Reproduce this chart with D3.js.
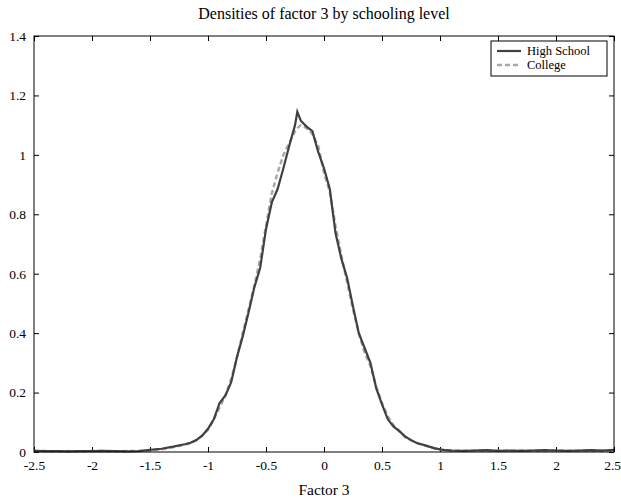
<!DOCTYPE html>
<html>
<head>
<meta charset="utf-8">
<script src="https://cdn.jsdelivr.net/npm/d3@7"></script>
<style>
  body { margin: 0; background: #fff; }
  svg { display: block; }
</style>
</head>
<body>
<svg id="chart" width="621" height="500"></svg>
<script>
const xs = [-2.5,-2.4,-2.3,-2.2,-2.1,-2.0,-1.9,-1.8,-1.7,-1.6,-1.5,-1.4,-1.3,-1.2,-1.15,-1.1,-1.05,-1.0,-0.95,-0.9,-0.85,-0.8,-0.75,-0.7,-0.65,-0.6,-0.55,-0.5,-0.45,-0.4,-0.35,-0.3,-0.25,-0.23,-0.2,-0.15,-0.1,-0.05,0,0.05,0.1,0.15,0.2,0.25,0.3,0.35,0.4,0.45,0.5,0.55,0.6,0.65,0.7,0.75,0.8,0.85,0.9,0.95,1.0,1.05,1.1,1.2,1.3,1.4,1.5,1.6,1.7,1.8,1.9,2.0,2.1,2.2,2.3,2.4,2.5];
const highSchool = [0.004,0.003,0.003,0.002,0.003,0.003,0.004,0.003,0.002,0.003,0.007,0.011,0.018,0.026,0.031,0.040,0.055,0.078,0.110,0.165,0.190,0.235,0.320,0.390,0.470,0.555,0.620,0.750,0.840,0.885,0.955,1.030,1.100,1.145,1.115,1.095,1.080,1.010,0.955,0.885,0.735,0.650,0.585,0.490,0.400,0.350,0.300,0.215,0.160,0.110,0.085,0.070,0.052,0.040,0.030,0.025,0.019,0.013,0.009,0.006,0.005,0.004,0.005,0.006,0.004,0.005,0.004,0.005,0.006,0.005,0.004,0.005,0.006,0.005,0.007];
const college = [0.003,0.003,0.002,0.003,0.002,0.003,0.003,0.002,0.003,0.003,0.005,0.009,0.016,0.025,0.030,0.040,0.055,0.075,0.110,0.150,0.190,0.245,0.320,0.400,0.480,0.560,0.650,0.760,0.870,0.940,1.000,1.040,1.080,1.090,1.100,1.090,1.070,1.030,0.940,0.875,0.760,0.660,0.570,0.480,0.400,0.335,0.290,0.220,0.165,0.120,0.090,0.070,0.050,0.040,0.030,0.024,0.018,0.012,0.008,0.006,0.005,0.004,0.004,0.005,0.004,0.004,0.005,0.004,0.005,0.005,0.004,0.004,0.005,0.004,0.005];
const xTicks = [-2.5,-2,-1.5,-1,-0.5,0,0.5,1,1.5,2,2.5];
const yTicks = [0,0.2,0.4,0.6,0.8,1,1.2,1.4];
const seriesNames = ["High School","College"];

const svg = d3.select("#chart");
const L = 34, R = 614, T = 36, B = 452;
const x = d3.scaleLinear().domain([-2.5, 2.5]).range([L, R]);
const y = d3.scaleLinear().domain([0, 1.4]).range([B, T]);
const font = "Liberation Serif, Times New Roman, serif";
const fmt = d => String(d);

// axes with inward ticks
const tl = 5;
svg.append("g").attr("transform", `translate(0,${B})`)
  .call(d3.axisBottom(x).tickValues(xTicks).tickFormat(fmt).tickSizeInner(-tl).tickSizeOuter(0).tickPadding(8))
  .call(g => {
    g.select(".domain").remove();
    g.selectAll("text").attr("font-family", font).attr("font-size", 13.5).attr("fill", "#000");
    g.selectAll(".tick").filter(d => d === 2.5).select("text").attr("text-anchor", "end").attr("dx", 6.5);
  });
svg.append("g").attr("transform", `translate(0,${T})`)
  .call(d3.axisTop(x).tickValues(xTicks).tickFormat("").tickSizeInner(-tl).tickSizeOuter(0))
  .call(g => g.select(".domain").remove());
svg.append("g").attr("transform", `translate(${L},0)`)
  .call(d3.axisLeft(y).tickValues(yTicks).tickFormat(fmt).tickSizeInner(-tl).tickSizeOuter(0).tickPadding(8))
  .call(g => { g.select(".domain").remove(); g.selectAll("text").attr("font-family", font).attr("font-size", 13.5).attr("fill", "#000"); });
svg.append("g").attr("transform", `translate(${R},0)`)
  .call(d3.axisRight(y).tickValues(yTicks).tickFormat("").tickSizeInner(-tl).tickSizeOuter(0))
  .call(g => g.select(".domain").remove());
svg.selectAll(".tick line").attr("stroke", "#000");

// lines
const line = (vals) => d3.line().x((d, i) => x(xs[i])).y(d => y(d))(vals);
svg.append("path").attr("d", line(college)).attr("fill", "none")
  .attr("stroke", "#a8a8a8").attr("stroke-width", 2.5).attr("stroke-dasharray", "5,3");
svg.append("path").attr("d", line(highSchool)).attr("fill", "none")
  .attr("stroke", "#404040").attr("stroke-width", 2.2);

// frame
svg.append("rect").attr("x", L).attr("y", T).attr("width", R - L).attr("height", B - T)
  .attr("fill", "none").attr("stroke", "#000").attr("stroke-width", 1);

// title and label
svg.append("text").attr("x", (L + R) / 2).attr("y", 19).attr("text-anchor", "middle")
  .attr("font-family", font).attr("font-size", 16).text("Densities of factor 3 by schooling level");
svg.append("text").attr("x", (L + R) / 2).attr("y", 495).attr("text-anchor", "middle")
  .attr("font-family", font).attr("font-size", 15.5).text("Factor 3");

// legend
const lg = svg.append("g");
lg.append("rect").attr("x", 491).attr("y", 41).attr("width", 116).attr("height", 35)
  .attr("fill", "#fff").attr("stroke", "#000").attr("stroke-width", 1);
const styles = [{c:"#404040", w:2.2, d:null}, {c:"#a8a8a8", w:2.5, d:"5,3"}];
seriesNames.forEach((n, i) => {
  const yy = 51 + i * 14;
  const p = lg.append("line").attr("x1", 497).attr("x2", 521).attr("y1", yy).attr("y2", yy)
    .attr("stroke", styles[i].c).attr("stroke-width", styles[i].w);
  if (styles[i].d) p.attr("stroke-dasharray", styles[i].d);
  lg.append("text").attr("x", 527).attr("y", yy + 4).attr("font-family", font)
    .attr("font-size", 12.5).text(n);
});
</script>
</body>
</html>
